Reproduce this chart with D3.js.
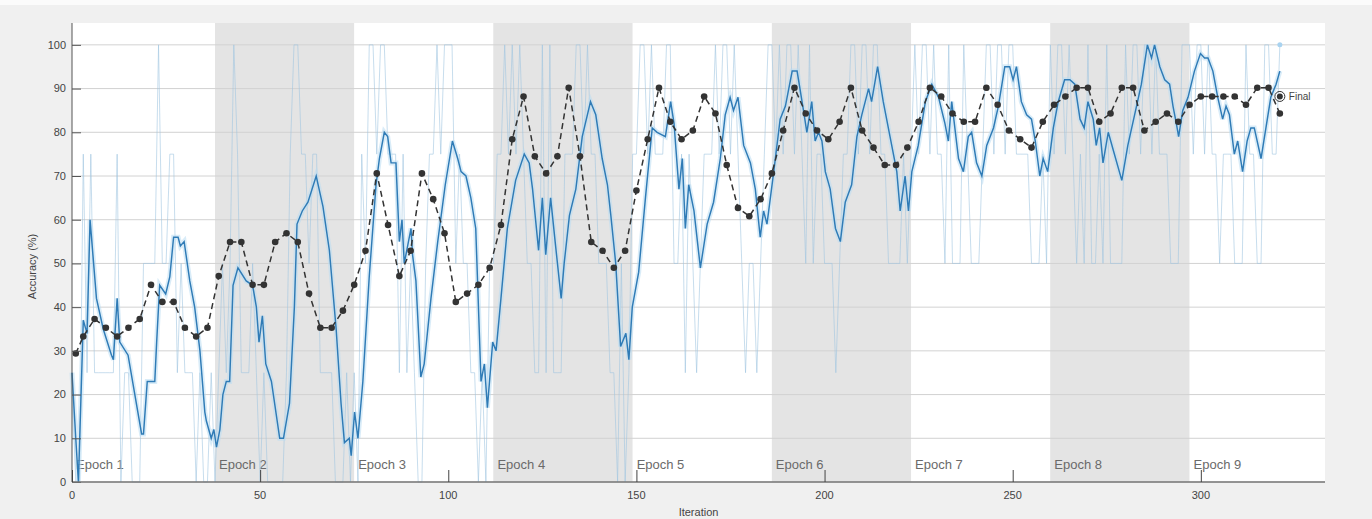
<!DOCTYPE html>
<html>
<head>
<meta charset="utf-8">
<script src="https://cdnjs.cloudflare.com/ajax/libs/d3/7.8.5/d3.min.js"></script>
<style>
	html, body { margin: 0; padding: 0; background: #f0f0f0; }
	svg { display: block; font-family: "Liberation Sans", Arial, sans-serif; }
	.tick-label { font-size: 11px; fill: #444444; }
	.axis-title { font-size: 11px; fill: #444444; }
	.epoch-label { font-size: 13px; fill: #6a6a6a; }
</style>
</head>
<body>
<div id="chart"></div>
<script>

////////////////////////////////////////////////////////////
//////////////////////// Data //////////////////////////////
////////////////////////////////////////////////////////////

var itersPerEpoch = 37,
	numEpochs = 9,
	maxIter = 333;

var epochNames = ["Epoch 1","Epoch 2","Epoch 3","Epoch 4","Epoch 5","Epoch 6","Epoch 7","Epoch 8","Epoch 9"];
var xTicks = [0, 50, 100, 150, 200, 250, 300];
var yTicks = [0, 10, 20, 30, 40, 50, 60, 70, 80, 90, 100];

//Mini-batch accuracy, one value per iteration (0 - 321)
var trainRaw = [
	25,0,0,75,25,75,25,25,25,25, 25,25,75,0,25,25,0,0,0,50, 50,50,50,100,50,50,75,75,25,50, 25,25,25,0,25,0,0,25,
	0,25,50,25,50,100,75,25,25,25, 50,25,0,25,0,0,0,0,0,25, 75,100,100,75,75,50,75,75,25,25, 25,25,0,0,0,25,0,
	25,0,75,50,100,100,75,100,100,75, 75,75,25,75,25,50,25,0,0,50, 75,75,100,75,100,100,100,50,75,50, 50,25,25,0,25,0,50,
	50,75,75,100,75,100,75,100,75,50, 50,25,25,100,25,100,25,25,25,75, 75,75,100,100,75,100,75,75,50,50, 50,25,25,0,50,0,25,
	75,75,100,100,75,100,75,75,75,100, 100,50,50,75,25,75,50,25,50,75, 75,75,100,75,100,100,75,100,75,50, 25,50,50,25,50,75,100,
	100,75,100,75,100,100,75,100,75,50, 100,50,75,75,50,50,50,25,50,75, 75,100,100,75,100,100,75,100,100,75, 75,50,50,50,50,75,50,
	75,100,75,100,100,75,100,75,75,50, 100,50,50,50,100,75,50,50,50,75, 100,100,75,100,100,75,100,100,75,75, 75,75,50,50,50,75,50,
	100,75,100,100,75,100,75,50,75,50, 100,50,50,75,50,100,50,50,50,50, 100,75,100,100,75,100,100,75,100,75, 75,75,50,50,50,100,100,
	100,75,100,100,75,100,75,75,50,75, 75,75,50,50,50,100,75,75,50,50, 100,100,75,75,100
];

//Smoothed training accuracy, read as [iteration, accuracy]
var trainSmooth = [
	[0,25],[1,10],[1.7,0],[3,37],[4,34],[4.8,60],[6.5,42],[8.3,35],[10.5,29],[11,28],[12,42],[12.7,32],
	[14.9,29],[16.7,20],[18.5,11],[19,11],[20,23],[22,23],[22.5,32],[23.3,45],[24.9,43],[26,47],[27,56],
	[28.2,56],[28.8,54],[29.8,55],[31.3,46],[32.6,40],[34,30],[35.3,16],[35.7,14],[37,10],[37.7,12],[38.4,8],
	[39.3,12],[40.1,20],[41,23],[41.9,23],[42.8,45],[44.1,49],[46.3,46],[48,45],[49,40],[49.7,32],[50.6,38],
	[51.5,27],[53,23],[55.2,10],[56.2,10],[57.8,18],[59.1,40],[59.8,59],[61.2,62],[62.7,64],[64.9,70],
	[66.7,63],[68.4,53],[70.2,35],[71.5,18],[72.4,9],[73.7,10],[74.2,6],[75.1,16],[76,10],[77.3,23],[79,47],
	[80.8,68],[81.7,74],[83,80],[83.9,79],[84.8,73],[86.1,73],[87,55],[87.7,60],[88.3,50],[89.2,54],[90.1,58],
	[90.5,52],[91.4,46],[92.7,24],[93.6,27],[95.4,42],[97.2,55],[99.2,68],[101.1,78],[102.5,74],[103.4,71],
	[104.7,70],[106,65],[107.3,58],[108.7,23],[109.6,27],[110.4,17],[111.8,32],[112.7,30],[114,42],[115.7,58],
	[117.9,69],[120.2,75],[121.5,73],[122.4,67],[124,53],[125,65],[125.9,52],[127.2,65],[128.4,55],[130,42],
	[130.8,50],[132.2,61],[133.9,67],[135.6,79],[137.8,87],[139.2,84],[140.9,74],[142.3,68],[143.2,61],
	[144.5,50],[145.8,31],[147.2,34],[148,28],[148.9,40],[150.6,48],[152.4,65],[154.2,81],[155.5,80],
	[157.7,79],[159.1,87],[160,82],[161.3,67],[162.2,74],[163,58],[163.9,68],[165.3,62],[167,49],[168.8,59],
	[170.5,64],[172.3,74],[173.6,84],[174.9,88],[175.8,85],[177,88],[178.5,77],[180.3,73],[181.6,67],
	[182.9,56],[183.8,62],[184.7,59],[186.5,71],[188.2,83],[189.6,86],[191.4,94],[192.7,94],[194.4,85],
	[195.3,80],[196.6,87],[197.5,78],[198.4,80],[199.3,78],[200.2,71],[201.5,67],[202.9,58],[204.2,55],
	[205.5,64],[207.2,68],[208.6,79],[209.9,84],[211.7,90],[212.5,87],[214.1,95],[215.6,87],[217.4,79],
	[219.2,71],[220.1,62],[221.4,70],[222.3,62],[223.2,71],[224.9,77],[226.8,87],[228.5,91],[230.3,88],
	[232,82],[232.9,78],[233.8,87],[235.6,74],[236.9,71],[238.2,79],[239.1,80],[240.4,73],[241.8,70],
	[243.1,77],[244.9,81],[246.2,86],[247.9,95],[249.2,95],[250.1,92],[251,95],[252.3,87],[253.7,84],
	[255,83],[256,78],[257.2,70],[258.1,74],[259.3,71],[260.8,81],[262.1,87],[263.8,92],[265.2,92],
	[266.5,91],[267.9,83],[269,81],[270,87],[271.4,83],[272.2,77],[273.1,81],[274,73],[275.4,80],[276.7,76],
	[279,69],[280.6,77],[282.4,84],[284.2,91],[285.8,100],[286.9,97],[287.7,100],[289.1,95],[290.4,92],
	[291.7,91],[292.6,86],[293.5,82],[294.1,79],[295.2,85],[296.6,88],[298.3,94],[299.9,98],[301,97],
	[301.9,97],[303.2,94],[304.5,88],[305.8,83],[306.7,86],[307.6,84],[308.9,75],[309.8,78],[311.1,71],
	[312.3,78],[313.3,81],[314.2,81],[316,74],[317.3,81],[318.6,88],[320,91],[321,94]
];

//Validation accuracy, at iteration 1 and then every 3 iterations
var valIters = [1].concat(d3.range(3, 322, 3));
var valAcc = [
	29.4,33.3,37.3,35.3,33.3,35.3,37.3,45.1,41.2,41.2,
	35.3,33.3,35.3,47.1,54.9,54.9,45.1,45.1,54.9,56.9,
	54.9,43.1,35.3,35.3,39.2,45.1,52.9,70.6,58.8,47.1,
	52.9,70.6,64.7,56.9,41.2,43.1,45.1,49.0,58.8,78.4,
	88.2,74.5,70.6,74.5,90.2,74.5,54.9,52.9,49.0,52.9,
	66.7,78.4,90.2,82.4,78.4,80.4,88.2,84.3,72.5,62.7,
	60.8,64.7,70.6,80.4,90.2,84.3,80.4,78.4,82.4,90.2,
	80.4,76.5,72.5,72.5,76.5,82.4,90.2,88.2,84.3,82.4,
	82.4,90.2,86.3,80.4,78.4,76.5,82.4,86.3,88.2,90.2,
	90.2,82.4,84.3,90.2,90.2,80.4,82.4,84.3,82.4,86.3,
	88.2,88.2,88.2,88.2,86.3,90.2,90.2,84.3
];

var finalIter = 321,
	finalAcc = 88.2,
	lastBatchAcc = 100;

////////////////////////////////////////////////////////////
////////////////////// Set up SVG //////////////////////////
////////////////////////////////////////////////////////////

var totalWidth = 1372,
	totalHeight = 519;

var margin = {top: 23, right: 47, bottom: 37, left: 72},
	width = totalWidth - margin.left - margin.right,
	height = totalHeight - margin.top - margin.bottom;

var svg = d3.select("#chart").append("svg")
	.attr("width", totalWidth)
	.attr("height", totalHeight);

//Light border of the screenshot
svg.append("rect")
	.attr("width", totalWidth)
	.attr("height", 5)
	.style("fill", "#fbfbfb");

var g = svg.append("g")
	.attr("transform", "translate(" + margin.left + "," + margin.top + ")");

var x = d3.scaleLinear().domain([0, maxIter]).range([0, width]);
var y = d3.scaleLinear().domain([0, 105]).range([height, 0]);

////////////////////////////////////////////////////////////
/////////////////// Epoch background bands /////////////////
////////////////////////////////////////////////////////////

g.selectAll(".epoch-band")
	.data(epochNames)
	.enter().append("rect")
	.attr("class", "epoch-band")
	.attr("x", function(d,i) { return i === 0 ? 0 : x(i*itersPerEpoch + 1); })
	.attr("width", function(d,i) {
		var start = i === 0 ? 0 : i*itersPerEpoch + 1;
		var end = Math.min((i+1)*itersPerEpoch + 1, maxIter);
		return x(end) - x(start);
	})
	.attr("y", 0)
	.attr("height", height)
	.style("fill", function(d,i) { return i % 2 === 0 ? "#ffffff" : "#e4e4e4"; });

//Horizontal grid
g.selectAll(".grid-line")
	.data(yTicks)
	.enter().append("line")
	.attr("class", "grid-line")
	.attr("x1", 0)
	.attr("x2", width)
	.attr("y1", function(d) { return y(d); })
	.attr("y2", function(d) { return y(d); })
	.style("stroke", "#d2d2d2")
	.style("stroke-width", 1);

g.selectAll(".epoch-label")
	.data(epochNames)
	.enter().append("text")
	.attr("class", "epoch-label")
	.attr("x", function(d,i) { return (i === 0 ? 0 : x(i*itersPerEpoch + 1)) + 4; })
	.attr("y", height - 13)
	.text(function(d) { return d; });

////////////////////////////////////////////////////////////
///////////////////////// Lines ////////////////////////////
////////////////////////////////////////////////////////////

var rawLine = d3.line()
	.x(function(d,i) { return x(i); })
	.y(function(d) { return y(d); });

g.append("path")
	.datum(trainRaw)
	.attr("d", rawLine)
	.style("fill", "none")
	.style("stroke", "#9fc4e0")
	.style("stroke-width", 0.9)
	.style("opacity", 0.65);

var smoothLine = d3.line()
	.x(function(d) { return x(d[0]); })
	.y(function(d) { return y(d[1]); });

//Soft halo round the smoothed line
g.append("path")
	.datum(trainSmooth)
	.attr("d", smoothLine)
	.style("fill", "none")
	.style("stroke", "#b9dcf3")
	.style("stroke-width", 5)
	.style("opacity", 0.55);

g.append("path")
	.datum(trainSmooth)
	.attr("d", smoothLine)
	.style("fill", "none")
	.style("stroke", "#2f7bb6")
	.style("stroke-width", 1.45);

//Last mini-batch point
g.append("circle")
	.attr("cx", x(finalIter))
	.attr("cy", y(lastBatchAcc))
	.attr("r", 2.5)
	.style("fill", "#a9d3f0");

var valData = valIters.map(function(d,i) { return [d, valAcc[i]]; });

g.append("path")
	.datum(valData)
	.attr("d", smoothLine)
	.style("fill", "none")
	.style("stroke", "#333333")
	.style("stroke-width", 1.5)
	.style("stroke-dasharray", "6,4");

g.selectAll(".val-dot")
	.data(valData)
	.enter().append("circle")
	.attr("class", "val-dot")
	.attr("cx", function(d) { return x(d[0]); })
	.attr("cy", function(d) { return y(d[1]); })
	.attr("r", 3.3)
	.style("fill", "#333333");

//Final validation marker
g.append("circle")
	.attr("cx", x(finalIter))
	.attr("cy", y(finalAcc))
	.attr("r", 5)
	.style("fill", "none")
	.style("stroke", "#333333")
	.style("stroke-width", 1);
g.append("circle")
	.attr("cx", x(finalIter))
	.attr("cy", y(finalAcc))
	.attr("r", 3)
	.style("fill", "#333333");
g.append("text")
	.attr("class", "tick-label")
	.attr("x", x(finalIter) + 9)
	.attr("y", y(finalAcc))
	.attr("dy", "0.35em")
	.style("font-size", "10px")
	.text("Final");

////////////////////////////////////////////////////////////
///////////////////////// Axes /////////////////////////////
////////////////////////////////////////////////////////////

var yAxis = g.append("g")
	.call(d3.axisRight(y).tickValues(yTicks).tickSize(9).tickFormat(""));
yAxis.select(".domain").attr("d", "M0," + height + "V0").style("stroke", "#555");
yAxis.selectAll(".tick line").style("stroke", "#555");

g.selectAll(".y-label")
	.data(yTicks)
	.enter().append("text")
	.attr("class", "tick-label")
	.attr("x", -6)
	.attr("y", function(d) { return y(d); })
	.attr("dy", "0.35em")
	.style("text-anchor", "end")
	.text(function(d) { return d; });

var xAxis = g.append("g")
	.attr("transform", "translate(0," + height + ")")
	.call(d3.axisTop(x).tickValues(xTicks).tickSize(12).tickFormat(""));
xAxis.select(".domain").attr("d", "M0,0H" + width).style("stroke", "#777").style("stroke-width", 1.5);
xAxis.selectAll(".tick line").style("stroke", "#444");

g.selectAll(".x-label")
	.data(xTicks)
	.enter().append("text")
	.attr("class", "tick-label")
	.attr("x", function(d) { return x(d); })
	.attr("y", height + 17)
	.style("text-anchor", "middle")
	.text(function(d) { return d; });

g.append("text")
	.attr("class", "axis-title")
	.attr("transform", "translate(" + (-36) + "," + (y(50) + 3) + ") rotate(-90)")
	.style("text-anchor", "middle")
	.text("Accuracy (%)");

g.append("text")
	.attr("class", "axis-title")
	.attr("x", width/2)
	.attr("y", height + 34)
	.style("text-anchor", "middle")
	.text("Iteration");

</script>
</body>
</html>
